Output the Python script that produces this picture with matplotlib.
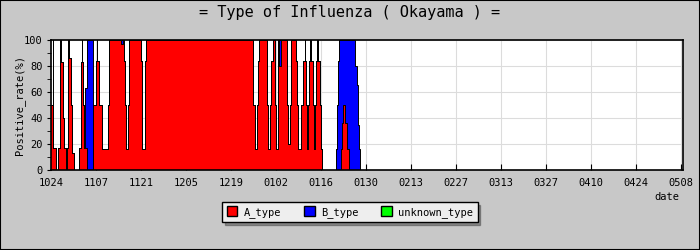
import matplotlib
matplotlib.use("Agg")
import matplotlib.pyplot as plt
import numpy as np
from matplotlib.patches import Patch, Rectangle

plt.rcParams['font.family'] = ['DejaVu Sans Mono']

# report positions in days since 10/24 (several reports per day, value held until next)
day = [0.00, 0.62, 0.72, 1.56,
       2.27, 2.80, 2.96, 3.64, 4.04, 4.57,
       5.07, 5.38, 5.54, 6.22, 6.63, 7.16,
       8.81, 9.24, 9.55, 9.65, 9.86, 10.36, 10.67,
       11.29, 12.91, 13.91, 14.16, 14.25, 15.03, 15.87, 17.83, 18.14,
       21.78, 22.50, 22.71, 22.93, 23.18, 23.86, 24.11, 24.36,
       28.00, 28.16, 28.41, 29.09, 29.34, 29.56,
       62.94, 63.38, 64.00, 64.41, 64.72,
       67.11, 67.42, 67.98, 68.29, 68.92, 69.70, 69.94, 70.47, 70.63,
       70.94, 71.56, 73.33, 73.58, 74.20, 74.52, 74.67,
       76.23, 76.54, 76.85, 77.88, 78.41, 78.94, 79.09, 79.43, 79.75,
       79.96, 80.37, 80.59, 80.74, 81.36, 81.77,
       82.05, 82.45, 82.76, 82.92, 83.70, 84.01, 84.32,
       88.67, 88.99, 89.39, 89.70, 90.07, 90.54, 90.95, 91.47, 91.94,
       92.81, 94.59, 95.05, 95.52, 95.92, 96.14, 196.6]

a_type = [50, 100, 17, 0,
          17, 100, 83, 40, 17, 0,
          17, 100, 86, 50, 13, 0,
          17, 83, 100, 83, 50, 17, 17,
          0, 50, 84, 100, 84, 50, 16, 50, 100,
          97, 100, 84, 50, 16, 50, 84, 100,
          84, 50, 16, 50, 84, 100,
          50, 16, 50, 84, 100,
          50, 16, 50, 84, 100, 50, 16, 84, 100,
          80, 100, 50, 20, 50, 84, 100,
          84, 50, 16, 50, 84, 100, 84, 50, 16,
          50, 84, 100, 84, 50, 16,
          50, 84, 100, 84, 50, 16, 0,
          0, 0, 0, 0, 16, 36, 50, 36, 16,
          0, 0, 0, 0, 0, 0, 0]

b_type = [0, 0, 0, 0,
          0, 0, 0, 0, 0, 0,
          0, 0, 0, 0, 0, 0,
          0, 0, 0, 0, 0, 0, 46,
          100, 0, 0, 0, 0, 0, 0, 0, 0,
          3, 0, 0, 0, 0, 0, 0, 0,
          0, 0, 0, 0, 0, 0,
          0, 0, 0, 0, 0,
          0, 0, 0, 0, 0, 0, 0, 0, 0,
          20, 0, 0, 0, 0, 0, 0,
          0, 0, 0, 0, 0, 0, 0, 0, 0,
          0, 0, 0, 0, 0, 0,
          0, 0, 0, 0, 0, 0, 0,
          16, 50, 84, 100, 84, 64, 50, 64, 84,
          100, 80, 65, 35, 16, 0, 0]

unknown_type = [0] * len(day)

tick_days = [0, 14, 28, 42, 56, 70, 84, 98, 112, 126, 140, 154, 168, 182, 196]
tick_labels = ['1024', '1107', '1121', '1205', '1219', '0102', '0116', '0130',
               '0213', '0227', '0313', '0327', '0410', '0424', '0508']

colors = ['#ff0000', '#0000ff', '#00ff00']
names = ['A_type', 'B_type', 'unknown_type']

fig = plt.figure(figsize=(7, 2.5), dpi=100)
fig.patch.set_facecolor('#c8c8c8')
fig.patches.append(Rectangle((0, 0), 1, 1, transform=fig.transFigure, fill=False,
                             edgecolor='black', linewidth=1.5))

ax = fig.add_axes([51 / 700, 80 / 250, 632 / 700, 130 / 250])
ax.set_facecolor('white')

# stacked step areas, then a thin black outline on each layer top
lower = np.zeros(len(day))
for vals, c in zip([a_type, b_type, unknown_type], colors):
    upper = lower + np.array(vals)
    ax.fill_between(day, lower, upper, step='post', facecolor=c, linewidth=0, zorder=2)
    if np.any(np.array(vals) > 0):
        ax.step(day, upper, where='post', color='black', linewidth=0.7, zorder=3)
    lower = upper

ax.set_xlim(0, 196.6)
ax.set_ylim(0, 100)
ax.set_xticks(tick_days)
ax.set_xticklabels(tick_labels, fontsize=7.5)
ax.set_yticks([0, 20, 40, 60, 80, 100])
ax.set_yticklabels(['0', '20', '40', '60', '80', '100'], fontsize=7.5)
ax.set_yticks(range(0, 101, 10), minor=True)
ax.tick_params(axis='x', direction='in', length=4, pad=6, color='black')
ax.tick_params(axis='y', which='both', direction='out', length=3, pad=3)
ax.grid(True, color='#dcdcdc', linewidth=0.8)
ax.set_axisbelow(True)
for s in ax.spines.values():
    s.set_linewidth(1.2)
    s.set_zorder(5)

fig.text(0.5, 1 - 13 / 250, '= Type of Influenza ( Okayama ) =',
         ha='center', va='center', fontsize=11)
fig.text(20 / 700, 1 - 105 / 250, 'Positive_rate(%)', rotation=90,
         ha='center', va='center', fontsize=7.5)
fig.text(667 / 700, 1 - 197 / 250, 'date', ha='center', va='center', fontsize=7.5)

handles = [Patch(facecolor=c, edgecolor='black', label=n) for c, n in zip(colors, names)]
leg = fig.legend(handles=handles, loc='center', bbox_to_anchor=(350 / 700, 1 - 212 / 250),
                 ncol=3, fontsize=7.5, frameon=True, fancybox=False, shadow=True,
                 edgecolor='black', facecolor='#eeeeee', framealpha=1,
                 handlelength=1.0, handleheight=1.0, handletextpad=0.6,
                 columnspacing=2.2, borderpad=0.45)
leg.get_frame().set_linewidth(1.0)

fig.savefig('out.png', dpi=100, facecolor=fig.get_facecolor())
